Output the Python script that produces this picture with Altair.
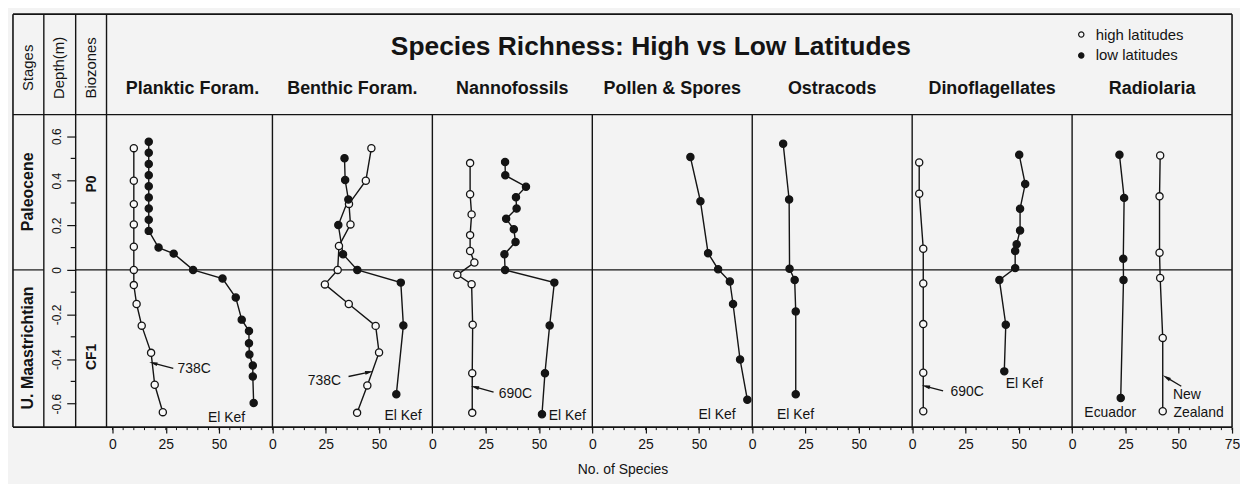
import math
import altair as alt
import pandas as pd

# ---------------- data ----------------
PANELS = ["Planktic Foram.", "Benthic Foram.", "Nannofossils", "Pollen & Spores",
          "Ostracods", "Dinoflagellates", "Radiolaria"]
SERIES = ["high latitudes", "low latitudes"]

PLANKTIC_HIGH_DEPTH = [0.546, 0.40, 0.295, 0.204, 0.104, 0.0, -0.068, -0.153, -0.25, -0.372, -0.515, -0.638]
PLANKTIC_HIGH_N = [10, 10, 10, 10, 10, 10, 10, 11.3, 13.7, 18.1, 19.8, 23.6]
PLANKTIC_LOW_DEPTH = [0.575, 0.525, 0.475, 0.425, 0.375, 0.325, 0.275, 0.225, 0.175, 0.1, 0.073, 0.0,
                      -0.039, -0.124, -0.223, -0.274, -0.329, -0.379, -0.429, -0.478, -0.597]
PLANKTIC_LOW_N = [17, 17, 17, 17, 17, 17, 17, 17, 17, 21.6, 28.7, 37.8,
                  51.6, 57.8, 60.6, 64, 64, 64.2, 65.8, 65.8, 66.2]

BENTHIC_HIGH_DEPTH = [0.546, 0.40, 0.296, 0.204, 0.107, 0.0, -0.065, -0.153, -0.251, -0.37, -0.518, -0.641]
BENTHIC_HIGH_N = [46.4, 43.8, 35.9, 36.6, 31.2, 30.6, 24.6, 35.8, 48.4, 50.0, 44.5, 39.7]
BENTHIC_LOW_DEPTH = [0.501, 0.403, 0.316, 0.201, 0.07, 0.0, -0.057, -0.249, -0.558]
BENTHIC_LOW_N = [33.8, 34.1, 35.6, 30.9, 33.1, 39.8, 60.2, 61.4, 58.1]

NANNO_HIGH_DEPTH = [0.479, 0.339, 0.249, 0.156, 0.085, 0.033, -0.022, -0.064, -0.246, -0.463, -0.641]
NANNO_HIGH_N = [17.7, 17.7, 18.4, 17.7, 17.7, 19.7, 11.7, 18.4, 18.9, 18.7, 18.7]
NANNO_LOW_DEPTH = [0.484, 0.424, 0.373, 0.326, 0.275, 0.229, 0.182, 0.125, 0.07, 0.0, -0.057, -0.249, -0.463, -0.647]
NANNO_LOW_N = [34.1, 34.2, 43.9, 39.2, 39.5, 34.6, 38.2, 39.0, 33.8, 34.1, 57.2, 55.0, 52.8, 51.4]

POLLEN_LOW_DEPTH = [0.506, 0.308, 0.075, 0.003, -0.052, -0.153, -0.402, -0.582]
POLLEN_LOW_N = [46, 50.7, 54.3, 59, 64.5, 66, 69.3, 72.7]

OSTRACOD_LOW_DEPTH = [0.566, 0.316, 0.005, -0.045, -0.186, -0.558]
OSTRACOD_LOW_N = [14.5, 17.3, 17.5, 19.9, 20.4, 20.4]

DINO_HIGH_DEPTH = [0.482, 0.342, 0.095, -0.061, -0.243, -0.461, -0.634]
DINO_HIGH_N = [3.3, 3.3, 5.2, 5.2, 5.2, 5.2, 5.2]
DINO_LOW_DEPTH = [0.516, 0.385, 0.274, 0.177, 0.115, 0.085, 0.008, -0.045, -0.246, -0.455]
DINO_LOW_N = [50.2, 53, 50.6, 50.6, 49, 48.3, 48.3, 40.9, 43.9, 43.2]

RADIO_HIGH_DEPTH = [0.513, 0.33, 0.077, -0.036, -0.305, -0.634]
RADIO_HIGH_N = [41.3, 41.0, 41.0, 41.3, 42.5, 42.5]
RADIO_LOW_DEPTH = [0.516, 0.323, 0.05, -0.045, -0.574]
RADIO_LOW_N = [22.2, 24.4, 24.0, 24.1, 22.8]

STAGES = ["Paleocene", "U. Maastrichtian"]
STAGE_TOP = [0.70, 0.0]
STAGE_BOTTOM = [0.0, -0.70]
BIOZONES = ["P0", "CF1"]
BIOZONE_DEPTH = [0.385, -0.39]

DEPTH_TICKS = [0.6, 0.4, 0.2, 0.0, -0.2, -0.4, -0.6]
DEPTH_MINOR = [0.5, 0.3, 0.1, -0.1, -0.3, -0.5]
N_TICKS = [0, 25, 50]
N_MINOR_STEP = 5
PANEL_SPAN = 75

NOTE_TEXT = ["738C", "El Kef", "738C", "El Kef", "690C", "El Kef", "El Kef", "El Kef",
             "690C", "El Kef", "Ecuador", "New", "Zealand"]
NOTE_PANEL = [0, 0, 1, 1, 2, 2, 3, 4, 5, 5, 6, 6, 6]
NOTE_N = [38.3, 53.5, 24.4, 61.3, 38.9, 63.3, 58.5, 20.3, 25.8, 52.6, 17.9, 53.8, 59.3]
NOTE_DEPTH = [-0.446, -0.665, -0.498, -0.655, -0.555, -0.655, -0.652, -0.652,
              -0.548, -0.51, -0.644, -0.5625, -0.644]

ARROW_PANEL = [0, 1, 2, 5, 6]
ARROW_TAIL_N = [28.5, 35.7, 28.7, 14.5, 51.2]
ARROW_TAIL_DEPTH = [-0.442, -0.478, -0.548, -0.543, -0.522]
ARROW_HEAD_N = [19.1, 45.4, 19.9, 6.4, 44.2]
ARROW_HEAD_DEPTH = [-0.418, -0.458, -0.525, -0.522, -0.482]

# ---------------- layout / style ----------------
FONT = "Liberation Sans"
INK = "#141414"
BG = "#f3f3f3"
W, H = 1225, 415
HEADER_H = 101
XMIN, XMAX = -46.67, 525
YMIN, YMAX = -0.705, 1.147
PX_N = W / (XMAX - XMIN)
PX_D = H / (YMAX - YMIN)

HIGH = [(PLANKTIC_HIGH_DEPTH, PLANKTIC_HIGH_N), (BENTHIC_HIGH_DEPTH, BENTHIC_HIGH_N),
        (NANNO_HIGH_DEPTH, NANNO_HIGH_N), ([], []), ([], []),
        (DINO_HIGH_DEPTH, DINO_HIGH_N), (RADIO_HIGH_DEPTH, RADIO_HIGH_N)]
LOW = [(PLANKTIC_LOW_DEPTH, PLANKTIC_LOW_N), (BENTHIC_LOW_DEPTH, BENTHIC_LOW_N),
       (NANNO_LOW_DEPTH, NANNO_LOW_N), (POLLEN_LOW_DEPTH, POLLEN_LOW_N),
       (OSTRACOD_LOW_DEPTH, OSTRACOD_LOW_N), (DINO_LOW_DEPTH, DINO_LOW_N),
       (RADIO_LOW_DEPTH, RADIO_LOW_N)]

rows = []
for i, name in enumerate(PANELS):
    for series, (ds, ns) in ((SERIES[0], HIGH[i]), (SERIES[1], LOW[i])):
        for d, n in zip(ds, ns):
            rows.append({"panel": name, "idx": i, "series": series, "depth": d, "richness": n})
obs = pd.DataFrame(rows)

panels_df = pd.DataFrame({"panel": PANELS, "idx": list(range(len(PANELS)))})
sep_df = pd.DataFrame({"idx": list(range(1, len(PANELS)))})
xmajor = [k * PANEL_SPAN + t for k in range(len(PANELS)) for t in N_TICKS] + [len(PANELS) * PANEL_SPAN]
xminor_df = pd.DataFrame({"gx": list(range(0, len(PANELS) * PANEL_SPAN + 1, N_MINOR_STEP))})

notes = pd.DataFrame({"text": NOTE_TEXT, "idx": NOTE_PANEL, "richness": NOTE_N, "depth": NOTE_DEPTH})
arrows = pd.DataFrame({"idx": ARROW_PANEL, "tn": ARROW_TAIL_N, "td": ARROW_TAIL_DEPTH,
                       "hn": ARROW_HEAD_N, "hd": ARROW_HEAD_DEPTH})
arrows["angle"] = [
    (math.degrees(math.atan2((hn - tn) * PX_N, (hd - td) * PX_D)) + 360) % 360
    for tn, td, hn, hd in zip(arrows.tn, arrows.td, arrows.hn, arrows.hd)
]
stages_df = pd.DataFrame({"stage": STAGES, "top": STAGE_TOP, "bottom": STAGE_BOTTOM})
zones_df = pd.DataFrame({"zone": BIOZONES, "depth": BIOZONE_DEPTH})
zero_df = pd.DataFrame({"depth": [0.0]})
dminor_df = pd.DataFrame({"depth": DEPTH_MINOR})
one = pd.DataFrame({"k": [0]})

XS = alt.Scale(domain=[XMIN, XMAX], nice=False, zero=False)
YS = alt.Scale(domain=[YMIN, YMAX], nice=False, zero=False)
X_AXIS = alt.Axis(values=xmajor,
                  labelExpr="datum.value >= 525 ? '75' : '' + (datum.value % 75)",
                  title="No. of Species", grid=False, domain=False, tickSize=6,
                  tickColor=INK, tickWidth=1.2, labelFont=FONT, labelFontSize=14,
                  labelColor=INK, labelPadding=4, labelFlush=False, labelOverlap=False,
                  titleFont=FONT, titleFontSize=14, titleFontWeight="normal",
                  titleColor=INK, titlePadding=12)
Y_AXIS = alt.Axis(values=DEPTH_TICKS,
                  labelExpr="datum.value == 0 ? '0' : replace(format(datum.value, '.1f'), '\u2212', '-')",
                  title=None, grid=False, domain=False, offset=-63, tickSize=9,
                  tickColor=INK, tickWidth=1.2, labelAngle=-90, labelAlign="center",
                  labelBaseline="bottom", labelPadding=3, labelFont=FONT, labelFontSize=12,
                  labelColor=INK)
X = alt.X("gx:Q", scale=XS, axis=X_AXIS)
Y = alt.Y("depth:Q", scale=YS, axis=Y_AXIS)

gx_calc = "datum.idx * 75 + datum.richness"

lines = alt.Chart(obs).transform_calculate(gx=gx_calc, key="datum.panel + '|' + datum.series").mark_line(
    color=INK, strokeWidth=1.4).encode(x=X, y=Y, detail="key:N", order="depth:Q")

points = alt.Chart(obs).transform_calculate(gx=gx_calc).mark_point(
    filled=True, stroke=INK, strokeWidth=1.3, size=52, opacity=1, shape="circle").encode(
    x=X, y=Y,
    fill=alt.Fill("series:N", scale=alt.Scale(domain=SERIES, range=["#f8f8f8", INK]),
                  legend=alt.Legend(orient="none", legendX=1066, legendY=13, title=None,
                                    symbolType="circle", symbolSize=28,
                                    symbolStrokeColor=INK, symbolStrokeWidth=1.2,
                                    labelFont=FONT, labelFontSize=15, labelColor=INK,
                                    labelOffset=7, rowPadding=5, padding=0)))

def hrule(y, x0=0, x1=W, sw=1.4):
    return alt.Chart(one).mark_rule(color=INK, strokeWidth=sw).encode(
        x=alt.value(x0), x2=alt.value(x1), y=alt.value(y))

def vrule(x, y0=0, y1=H, sw=1.4):
    return alt.Chart(one).mark_rule(color=INK, strokeWidth=sw).encode(
        x=alt.value(x), y=alt.value(y0), y2=alt.value(y1))

frame = [hrule(0, sw=1.6), hrule(H, sw=1.6), hrule(HEADER_H), vrule(0, sw=1.6), vrule(W, sw=1.6),
         vrule(31), vrule(63), vrule(94)]

seps = alt.Chart(sep_df).transform_calculate(gx="datum.idx * 75").mark_rule(
    color=INK, strokeWidth=1.4).encode(x=X, y=alt.value(HEADER_H), y2=alt.value(H))

zero_l = alt.Chart(zero_df).mark_rule(color=INK, strokeWidth=1.2).encode(
    y=Y, x=alt.value(0), x2=alt.value(31))
zero_r = alt.Chart(zero_df).mark_rule(color=INK, strokeWidth=1.2).encode(
    y=Y, x=alt.value(63), x2=alt.value(W))

dminor = alt.Chart(dminor_df).mark_rule(color=INK, strokeWidth=1.2).encode(
    y=Y, x=alt.value(58), x2=alt.value(63))
xminor = alt.Chart(xminor_df).mark_rule(color=INK, strokeWidth=1.0).encode(
    x=X, y=alt.value(H), y2=alt.value(H + 3))

title = alt.Chart(one).mark_text(text="Species Richness: High vs Low Latitudes", font=FONT,
                                 fontSize=26.5, fontWeight="bold", color=INK).encode(
    x=alt.value(641), y=alt.value(33))

panel_labels = alt.Chart(panels_df).transform_calculate(gx="datum.idx * 75 + 37.5").mark_text(
    font=FONT, fontSize=18, fontWeight="bold", color=INK).encode(
    x=X, y=alt.value(75), text="panel:N")

col_heads = [
    alt.Chart(one).mark_text(text=t, font=FONT, fontSize=15, angle=270, color=INK).encode(
        x=alt.value(xp), y=alt.value(54))
    for t, xp in (("Stages", 15.5), ("Depth(m)", 46), ("Biozones", 78.5))
]

stage_txt = alt.Chart(stages_df).transform_calculate(depth="(datum.top + datum.bottom) / 2").mark_text(
    font=FONT, fontSize=16, fontWeight="bold", angle=270, color=INK).encode(
    x=alt.value(15.5), y=Y, text="stage:N")

zone_txt = alt.Chart(zones_df).mark_text(font=FONT, fontSize=14, fontWeight="bold", angle=270,
                                         color=INK).encode(x=alt.value(79), y=Y, text="zone:N")

note_txt = alt.Chart(notes).transform_calculate(gx=gx_calc).mark_text(
    font=FONT, fontSize=14, color=INK).encode(x=X, y=Y, text="text:N")

shafts = alt.Chart(arrows).transform_calculate(
    gx="datum.idx * 75 + datum.tn", gx2="datum.idx * 75 + datum.hn",
    depth="datum.td", depth2="datum.hd").mark_rule(color=INK, strokeWidth=1.3).encode(
    x=X, x2="gx2:Q", y=Y, y2="depth2:Q")

heads = alt.Chart(arrows).transform_calculate(
    gx="datum.idx * 75 + datum.hn", depth="datum.hd").mark_point(
    shape="M0,-1L0.45,1L-0.45,1Z", filled=True, color=INK, size=70, opacity=1).encode(
    x=X, y=Y, angle=alt.Angle("angle:Q", scale=None))

chart = alt.layer(
    *frame, seps, zero_l, zero_r, dminor, xminor, lines, shafts, heads, points,
    title, panel_labels, *col_heads, stage_txt, zone_txt, note_txt
).properties(
    width=W, height=H, background=BG,
    padding={"left": 4, "top": 4, "right": 0, "bottom": 6}
).configure_view(stroke=None)

chart.save("out.html", embed_options={"renderer": "svg", "actions": False})
